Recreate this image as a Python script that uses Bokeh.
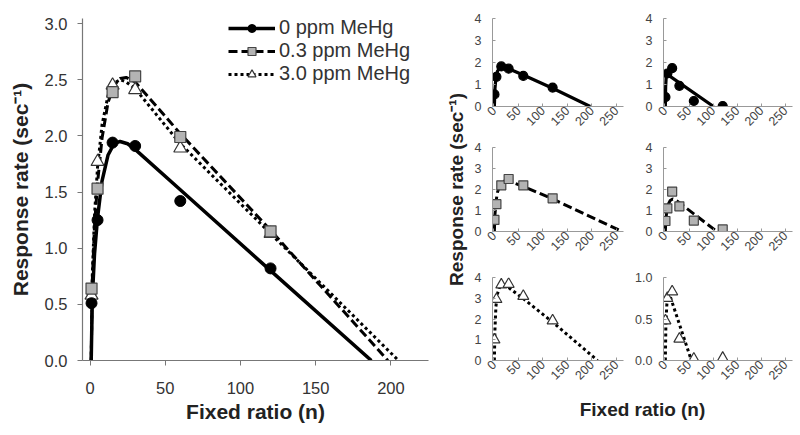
import math
from bokeh.plotting import figure
from bokeh.layouts import row, column
from bokeh.models import Range1d, FixedTicker, PrintfTickFormatter, Legend, LegendItem
from bokeh.embed import file_html
from bokeh.resources import INLINE

FONT = "Liberation Sans"

# ---------------- data ----------------
FR = [1, 5, 15, 30, 60, 120]
series_labels = ["0 ppm MeHg", "0.3 ppm MeHg", "3.0 ppm MeHg"]

# group means (main panel)
rate_0 = [0.51, 1.25, 1.94, 1.91, 1.42, 0.82]
rate_03 = [0.64, 1.53, 2.39, 2.53, 1.99, 1.15]
rate_30 = [0.58, 1.77, 2.45, 2.41, 1.89, 1.13]

# fitted curves (main panel)
fit0_x = [0.8, 1.5, 3, 5, 8, 12, 16, 20, 25, 30, 60, 120, 187]
fit0_y = [0, 0.55, 0.95, 1.27, 1.6, 1.83, 1.93, 1.95, 1.93, 1.88, 1.52, 0.8, 0]
fit03_x = [0.8, 1.5, 3, 5, 8, 12, 16, 20, 24, 30, 60, 120, 198]
fit03_y = [0, 0.7, 1.2, 1.58, 1.98, 2.3, 2.45, 2.51, 2.52, 2.48, 2.02, 1.16, 0]
fit30_x = [0.8, 1.5, 3, 5, 8, 12, 16, 20, 24, 30, 60, 120, 205]
fit30_y = [0, 0.75, 1.3, 1.72, 2.1, 2.36, 2.47, 2.5, 2.48, 2.42, 1.93, 1.13, 0]

# individual subjects (small panels)
subjA_y = [0.55, 1.35, 1.82, 1.72, 1.39, 0.86]
subjA_fit_x = [0.8, 2, 4, 7, 12, 16, 30, 60, 120, 197]
subjA_fit_y = [0, 0.8, 1.3, 1.6, 1.77, 1.8, 1.72, 1.43, 0.83, 0]

subjB_y = [0.43, 1.5, 1.74, 0.94, 0.25, 0.02]
subjB_fit_x = [0.8, 1.5, 2.5, 4, 101]
subjB_fit_y = [0, 0.9, 1.3, 1.47, 0]

subjC_y = [0.55, 1.3, 2.2, 2.5, 2.2, 1.58]
subjC_fit_x = [0.8, 2, 4, 7, 12, 18, 25, 30, 60, 120, 262]
subjC_fit_y = [0, 0.8, 1.4, 1.85, 2.2, 2.38, 2.42, 2.4, 2.15, 1.55, 0]

subjD_y = [0.5, 1.1, 1.9, 1.2, 0.52, 0.1]
subjD_fit_x = [0.8, 2, 4, 7, 11, 16, 25, 60, 108]
subjD_fit_y = [0, 0.6, 1.0, 1.3, 1.48, 1.55, 1.45, 0.84, 0]

subjE_y = [1.0, 2.95, 3.65, 3.68, 3.1, 1.92]
subjE_fit_x = [0.8, 2, 4, 7, 11, 16, 25, 60, 120, 212]
subjE_fit_y = [0, 1.5, 2.6, 3.2, 3.5, 3.62, 3.6, 2.98, 1.85, 0]

subjF_y = [0.48, 0.75, 0.83, 0.26, 0.02, 0.03]
subjF_fit_x = [0.8, 2, 4, 7, 11, 55]
subjF_fit_y = [0, 0.45, 0.68, 0.76, 0.77, 0]

main_xticks = [0, 50, 100, 150, 200]
main_yticks = [0.0, 0.5, 1.0, 1.5, 2.0, 2.5, 3.0]
small_xticks = [0, 50, 100, 150, 200, 250]
small_yticks = [0, 1, 2, 3, 4]
small_yticks_F = [0.0, 0.5, 1.0]

XLABEL = "Fixed ratio (n)"
YLABEL = "Response rate (sec\u207b\u00b9)"

STYLES = {
    "0": dict(dash="solid", marker="circle", fill="black", line="black"),
    "03": dict(dash="9 4", marker="square", fill="#b3b3b3", line="#444444"),
    "30": dict(dash="3 3", marker="triangle", fill="white", line="#333333"),
}


def clean(p):
    p.outline_line_color = None
    p.grid.visible = False
    p.background_fill_color = "white"
    p.border_fill_color = "white"


# ---------------- main panel ----------------
main = figure(width=438, height=435, x_range=Range1d(-5, 225), y_range=Range1d(0, 3.045),
              output_backend="svg", toolbar_location=None, title=None,
              min_border_left=82, min_border_right=10, min_border_top=10, min_border_bottom=75)
clean(main)
for ax in (main.xaxis[0], main.yaxis[0]):
    ax.axis_line_color = "#777777"
    ax.axis_line_width = 1.2
    ax.major_tick_line_color = "#777777"
    ax.major_tick_in = 0
    ax.major_tick_out = 5
    ax.minor_tick_line_color = None
    ax.major_label_text_font = FONT
    ax.major_label_text_font_size = "16.5px"
    ax.major_label_text_color = "#333333"
    ax.axis_label_text_font = FONT
    ax.axis_label_text_font_size = "21px"
    ax.axis_label_text_font_style = "bold"
    ax.axis_label_text_color = "#222222"
main.xaxis.ticker = FixedTicker(ticks=main_xticks)
main.yaxis.ticker = FixedTicker(ticks=main_yticks)
main.yaxis.formatter = PrintfTickFormatter(format="%.1f")
main.xaxis.axis_label = XLABEL
main.yaxis.axis_label = YLABEL
main.xaxis.major_label_standoff = 16
main.yaxis.major_label_standoff = 10
main.xaxis.axis_label_standoff = 3
main.yaxis.axis_label_standoff = 10

l0 = main.line(fit0_x, fit0_y, line_color="black", line_width=3.5)
l03 = main.line(fit03_x, fit03_y, line_color="black", line_width=3, line_dash="9 4")
l30 = main.line(fit30_x, fit30_y, line_color="black", line_width=3, line_dash="3 3")
m30 = main.scatter(FR, rate_30, marker="triangle", size=13, fill_color="white",
                   line_color="#333333", line_width=1.2)
m03 = main.scatter(FR, rate_03, marker="square", size=11, fill_color="#b3b3b3",
                   line_color="#444444", line_width=1.2)
m0 = main.scatter(FR, rate_0, marker="circle", size=11, fill_color="black", line_color="black")

legend = Legend(items=[
    LegendItem(label=series_labels[0], renderers=[l0, m0]),
    LegendItem(label=series_labels[1], renderers=[l03, m03]),
    LegendItem(label=series_labels[2], renderers=[l30, m30]),
], location=(146, 275))
legend.border_line_color = None
legend.background_fill_alpha = 0
legend.padding = 0
legend.margin = 0
legend.spacing = 0
legend.glyph_width = 47
legend.glyph_height = 20
legend.label_height = 20
legend.label_standoff = 4
legend.label_text_font = FONT
legend.label_text_font_size = "20px"
legend.label_text_color = "#333333"
main.add_layout(legend)


# ---------------- small panels ----------------
def small(width, height, mbl, mbr, mbt, mbb, yr, yticks, yfmt):
    p = figure(width=width, height=height, x_range=Range1d(-3, 265), y_range=Range1d(*yr),
               output_backend="svg", toolbar_location=None, title=None,
               min_border_left=mbl, min_border_right=mbr, min_border_top=mbt, min_border_bottom=mbb)
    clean(p)
    for ax in (p.xaxis[0], p.yaxis[0]):
        ax.axis_line_color = "#999999"
        ax.axis_line_width = 1
        ax.major_tick_line_color = "#999999"
        ax.major_tick_in = 3
        ax.major_tick_out = 0
        ax.minor_tick_line_color = None
        ax.major_label_text_font = FONT
        ax.major_label_text_font_size = "12.5px"
        ax.major_label_text_color = "#444444"
    p.xaxis.ticker = FixedTicker(ticks=small_xticks)
    p.yaxis.ticker = FixedTicker(ticks=yticks)
    p.yaxis.formatter = PrintfTickFormatter(format=yfmt)
    p.xaxis.major_label_orientation = math.pi / 4
    p.xaxis.major_label_standoff = 2
    p.yaxis.major_label_standoff = 11
    return p


def draw(p, key, ys, fx, fy):
    st = STYLES[key]
    lw = 3.2 if key == "0" else 3
    p.line(fx, fy, line_color="black", line_width=lw, line_dash=st["dash"])
    size = {"circle": 9, "square": 9, "triangle": 11}[st["marker"]]
    p.scatter(FR, ys, marker=st["marker"], size=size, fill_color=st["fill"],
              line_color=st["line"], line_width=1.2)


pA = small(158, 135, 22, 5, 18, 29, (0, 4), small_yticks, "%d")
pB = small(172, 135, 35, 8, 18, 29, (0, 4), small_yticks, "%d")
pC = small(158, 127, 22, 5, 12, 31, (0, 4), small_yticks, "%d")
pD = small(172, 127, 35, 8, 12, 31, (0, 4), small_yticks, "%d")
pE = small(158, 133, 22, 5, 15, 35, (0, 4), small_yticks, "%d")
pF = small(172, 133, 35, 8, 15, 35, (0, 1), small_yticks_F, "%.1f")

draw(pA, "0", subjA_y, subjA_fit_x, subjA_fit_y)
draw(pB, "0", subjB_y, subjB_fit_x, subjB_fit_y)
draw(pC, "03", subjC_y, subjC_fit_x, subjC_fit_y)
draw(pD, "03", subjD_y, subjD_fit_x, subjD_fit_y)
draw(pE, "30", subjE_y, subjE_fit_x, subjE_fit_y)
draw(pF, "30", subjF_y, subjF_fit_x, subjF_fit_y)

# shared axis titles for the small panels
yfig = figure(width=32, height=435, x_range=Range1d(0, 1), y_range=Range1d(0, 1),
              output_backend="svg", toolbar_location=None, x_axis_location=None, title=None,
              min_border_left=30, min_border_right=0, min_border_top=18, min_border_bottom=75)
clean(yfig)
yfig.yaxis.ticker = FixedTicker(ticks=[])
yfig.yaxis.axis_line_color = None
yfig.yaxis.major_tick_line_color = None
yfig.yaxis.minor_tick_line_color = None
yfig.yaxis.major_tick_out = 0
yfig.yaxis.major_tick_in = 0
yfig.yaxis.major_label_standoff = 0
yfig.yaxis.axis_label = YLABEL
yfig.yaxis.axis_label_standoff = 2
yfig.yaxis.axis_label_text_font = FONT
yfig.yaxis.axis_label_text_font_size = "19px"
yfig.yaxis.axis_label_text_font_style = "bold"
yfig.yaxis.axis_label_text_color = "#222222"

xfig = figure(width=330, height=40, x_range=Range1d(0, 1), y_range=Range1d(0, 1),
              output_backend="svg", toolbar_location=None, y_axis_location=None, title=None,
              min_border_left=22, min_border_right=8, min_border_top=2, min_border_bottom=37)
clean(xfig)
xfig.xaxis.ticker = FixedTicker(ticks=[])
xfig.xaxis.axis_line_color = None
xfig.xaxis.major_tick_line_color = None
xfig.xaxis.minor_tick_line_color = None
xfig.xaxis.major_tick_out = 0
xfig.xaxis.major_tick_in = 0
xfig.xaxis.major_label_standoff = 0
xfig.xaxis.axis_label = XLABEL
xfig.xaxis.axis_label_standoff = 0
xfig.xaxis.axis_label_text_font = FONT
xfig.xaxis.axis_label_text_font_size = "19px"
xfig.xaxis.axis_label_text_font_style = "bold"
xfig.xaxis.axis_label_text_color = "#222222"

right = column(row(pA, pB), row(pC, pD), row(pE, pF), xfig)
layout = row(main, yfig, right)

open("out.html", "w").write(file_html(layout, INLINE))
